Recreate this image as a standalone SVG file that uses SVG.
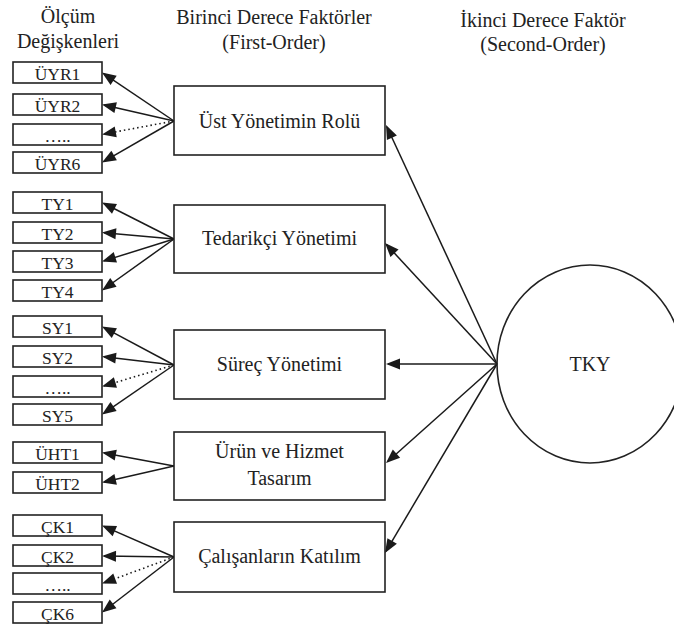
<svg xmlns="http://www.w3.org/2000/svg" width="674" height="626" viewBox="0 0 674 626" font-family="Times New Roman, Liberation Serif, serif">
<rect width="674" height="626" fill="#fff"/>
<g id="headers" font-size="20" text-anchor="middle" fill="#222">
<text font-family="Times New Roman, Liberation Serif, serif" x="68" y="23">Ölçüm</text>
<text font-family="Times New Roman, Liberation Serif, serif" x="68" y="48">Değişkenleri</text>
<text font-family="Times New Roman, Liberation Serif, serif" x="274" y="24">Birinci Derece Faktörler</text>
<text font-family="Times New Roman, Liberation Serif, serif" x="274" y="49">(First-Order)</text>
<text font-family="Times New Roman, Liberation Serif, serif" x="543" y="27">İkinci Derece Faktör</text>
<text font-family="Times New Roman, Liberation Serif, serif" x="543" y="51">(Second-Order)</text>
</g>
<g id="connectors">
<g stroke="#1a1a1a" stroke-width="1.5" fill="none">
<line x1="174" y1="121" x2="104" y2="73.8"/>
<line x1="174" y1="121" x2="104" y2="105"/>
<line stroke-dasharray="1.5 3" stroke-width="1.6" x1="174" y1="121" x2="104" y2="134"/>
<line x1="174" y1="121" x2="104" y2="161.4"/>
<line x1="174" y1="239" x2="104" y2="203.5"/>
<line x1="174" y1="239" x2="104" y2="232.7"/>
<line x1="174" y1="239" x2="104" y2="260.9"/>
<line x1="174" y1="239" x2="104" y2="289"/>
<line x1="174" y1="365" x2="104" y2="327.6"/>
<line x1="174" y1="365" x2="104" y2="356.7"/>
<line stroke-dasharray="1.5 3" stroke-width="1.6" x1="174" y1="365" x2="104" y2="385.9"/>
<line x1="174" y1="365" x2="104" y2="413.1"/>
<line x1="174" y1="466" x2="104" y2="452.9"/>
<line x1="174" y1="466" x2="104" y2="482"/>
<line x1="174" y1="557" x2="104" y2="526.4"/>
<line x1="174" y1="557" x2="104" y2="556"/>
<line stroke-dasharray="1.5 3" stroke-width="1.6" x1="174" y1="557" x2="104" y2="582.8"/>
<line x1="174" y1="557" x2="104" y2="611"/>
<line x1="497" y1="364" x2="387" y2="127"/>
<line x1="497" y1="364" x2="386.5" y2="244.6"/>
<line x1="497" y1="364" x2="388" y2="364"/>
<line x1="497" y1="364" x2="387.5" y2="461.7"/>
<line x1="497" y1="364" x2="386" y2="551.3"/>
</g>
<g fill="#1a1a1a">
<polygon points="102,72.5 116.68,75.76 110.54,84.88"/>
<polygon points="102,104.5 116.88,102.27 114.42,112.99"/>
<polygon points="102,134.5 114.75,126.51 116.77,137.33"/>
<polygon points="102,162.5 111.38,150.74 116.88,160.28"/>
<polygon points="102,202.5 116.98,203.92 112.00,213.74"/>
<polygon points="102,232.5 116.43,228.28 115.45,239.24"/>
<polygon points="102,261.5 113.72,252.07 117.00,262.57"/>
<polygon points="102,290.5 110.19,277.88 116.59,286.82"/>
<polygon points="102,326.5 116.94,328.25 111.76,337.95"/>
<polygon points="102,356.5 116.54,352.68 115.26,363.60"/>
<polygon points="102,386.5 113.84,377.22 116.98,387.76"/>
<polygon points="102,414.5 110.42,402.04 116.66,411.10"/>
<polygon points="102,452.5 116.77,449.67 114.75,460.49"/>
<polygon points="102,482.5 114.42,474.01 116.88,484.73"/>
<polygon points="102,525.5 117.03,526.07 112.63,536.15"/>
<polygon points="102,556 116.08,550.69 115.92,561.69"/>
<polygon points="102,583.5 113.24,573.50 117.04,583.82"/>
<polygon points="102,612.5 109.73,599.59 116.45,608.31"/>
<polygon points="386,125 396.89,135.38 386.91,140.02"/>
<polygon points="385,243 398.55,249.53 390.47,257.01"/>
<polygon points="386,364 400,358.5 400,369.5"/>
<polygon points="386,463 392.79,449.58 400.11,457.78"/>
<polygon points="385,553 387.41,538.16 396.87,543.76"/>
</g>
</g>
<g font-size="17.5" text-anchor="middle">
<g id="UYR1"><rect fill="#fff" stroke="#222" stroke-width="1.6" x="13" y="62" width="89" height="21"/><text font-family="Times New Roman, Liberation Serif, serif" fill="#222" x="57.5" y="79.5">ÜYR1</text></g>
<g id="UYR2"><rect fill="#fff" stroke="#222" stroke-width="1.6" x="13" y="94" width="89" height="21"/><text font-family="Times New Roman, Liberation Serif, serif" fill="#222" x="57.5" y="111.5">ÜYR2</text></g>
<g id="UYRd"><rect fill="#fff" stroke="#222" stroke-width="1.6" x="13" y="124" width="89" height="21"/><text font-family="Times New Roman, Liberation Serif, serif" fill="#222" x="57.5" y="141.5">…..</text></g>
<g id="UYR6"><rect fill="#fff" stroke="#222" stroke-width="1.6" x="13" y="152" width="89" height="21"/><text font-family="Times New Roman, Liberation Serif, serif" fill="#222" x="57.5" y="169.5">ÜYR6</text></g>
<g id="TY1"><rect fill="#fff" stroke="#222" stroke-width="1.6" x="13" y="192" width="89" height="21"/><text font-family="Times New Roman, Liberation Serif, serif" fill="#222" x="57.5" y="209.5">TY1</text></g>
<g id="TY2"><rect fill="#fff" stroke="#222" stroke-width="1.6" x="13" y="222" width="89" height="21"/><text font-family="Times New Roman, Liberation Serif, serif" fill="#222" x="57.5" y="239.5">TY2</text></g>
<g id="TY3"><rect fill="#fff" stroke="#222" stroke-width="1.6" x="13" y="251" width="89" height="21"/><text font-family="Times New Roman, Liberation Serif, serif" fill="#222" x="57.5" y="268.5">TY3</text></g>
<g id="TY4"><rect fill="#fff" stroke="#222" stroke-width="1.6" x="13" y="280" width="89" height="21"/><text font-family="Times New Roman, Liberation Serif, serif" fill="#222" x="57.5" y="297.5">TY4</text></g>
<g id="SY1"><rect fill="#fff" stroke="#222" stroke-width="1.6" x="13" y="316" width="89" height="21"/><text font-family="Times New Roman, Liberation Serif, serif" fill="#222" x="57.5" y="333.5">SY1</text></g>
<g id="SY2"><rect fill="#fff" stroke="#222" stroke-width="1.6" x="13" y="346" width="89" height="21"/><text font-family="Times New Roman, Liberation Serif, serif" fill="#222" x="57.5" y="363.5">SY2</text></g>
<g id="SYd"><rect fill="#fff" stroke="#222" stroke-width="1.6" x="13" y="376" width="89" height="21"/><text font-family="Times New Roman, Liberation Serif, serif" fill="#222" x="57.5" y="393.5">…..</text></g>
<g id="SY5"><rect fill="#fff" stroke="#222" stroke-width="1.6" x="13" y="404" width="89" height="21"/><text font-family="Times New Roman, Liberation Serif, serif" fill="#222" x="57.5" y="421.5">SY5</text></g>
<g id="UHT1"><rect fill="#fff" stroke="#222" stroke-width="1.6" x="13" y="442" width="89" height="21"/><text font-family="Times New Roman, Liberation Serif, serif" fill="#222" x="57.5" y="459.5">ÜHT1</text></g>
<g id="UHT2"><rect fill="#fff" stroke="#222" stroke-width="1.6" x="13" y="472" width="89" height="21"/><text font-family="Times New Roman, Liberation Serif, serif" fill="#222" x="57.5" y="489.5">ÜHT2</text></g>
<g id="CK1"><rect fill="#fff" stroke="#222" stroke-width="1.6" x="13" y="515" width="89" height="21"/><text font-family="Times New Roman, Liberation Serif, serif" fill="#222" x="57.5" y="532.5">ÇK1</text></g>
<g id="CK2"><rect fill="#fff" stroke="#222" stroke-width="1.6" x="13" y="545" width="89" height="21"/><text font-family="Times New Roman, Liberation Serif, serif" fill="#222" x="57.5" y="562.5">ÇK2</text></g>
<g id="CKd"><rect fill="#fff" stroke="#222" stroke-width="1.6" x="13" y="573" width="89" height="21"/><text font-family="Times New Roman, Liberation Serif, serif" fill="#222" x="57.5" y="590.5">…..</text></g>
<g id="CK6"><rect fill="#fff" stroke="#222" stroke-width="1.6" x="13" y="602" width="89" height="21"/><text font-family="Times New Roman, Liberation Serif, serif" fill="#222" x="57.5" y="619.5">ÇK6</text></g>
</g>
<g font-size="20" text-anchor="middle">
<g id="F1"><rect fill="#fff" stroke="#222" stroke-width="1.6" x="174" y="86" width="211" height="69"/><text font-family="Times New Roman, Liberation Serif, serif" fill="#222" x="279.5" y="128">Üst Yönetimin Rolü</text></g>
<g id="F2"><rect fill="#fff" stroke="#222" stroke-width="1.6" x="174" y="205" width="211" height="68"/><text font-family="Times New Roman, Liberation Serif, serif" fill="#222" x="279.5" y="245">Tedarikçi Yönetimi</text></g>
<g id="F3"><rect fill="#fff" stroke="#222" stroke-width="1.6" x="174" y="330" width="211" height="69"/><text font-family="Times New Roman, Liberation Serif, serif" fill="#222" x="279.5" y="371">Süreç Yönetimi</text></g>
<g id="F4"><rect fill="#fff" stroke="#222" stroke-width="1.6" x="174" y="432" width="211" height="68"/><text font-family="Times New Roman, Liberation Serif, serif" fill="#222" x="279.5" y="458">Ürün ve Hizmet</text><text font-family="Times New Roman, Liberation Serif, serif" fill="#222" x="279.5" y="485">Tasarım</text></g>
<g id="F5"><rect fill="#fff" stroke="#222" stroke-width="1.6" x="174" y="522" width="211" height="70"/><text font-family="Times New Roman, Liberation Serif, serif" fill="#222" x="279.5" y="563">Çalışanların Katılım</text></g>
<g id="TKY"><ellipse cx="590" cy="364" rx="93" ry="99" fill="none" stroke="#222" stroke-width="1.6"/><text font-family="Times New Roman, Liberation Serif, serif" fill="#222" x="590" y="371">TKY</text></g>
</g>
</svg>
